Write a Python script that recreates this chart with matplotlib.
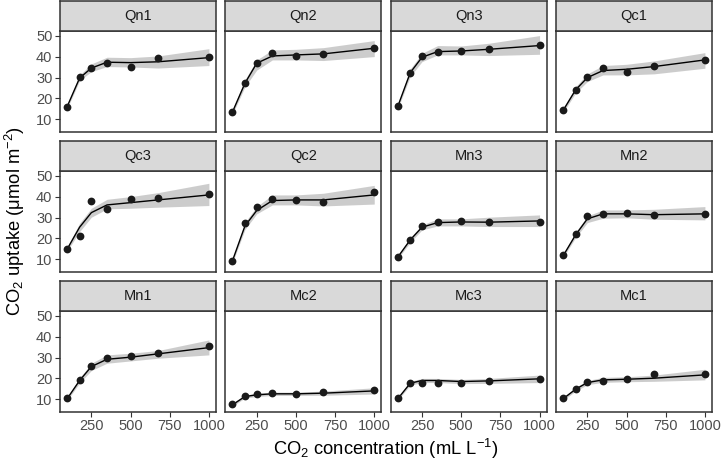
import matplotlib
matplotlib.use("Agg")
import matplotlib.pyplot as plt

plt.rcParams["font.family"] = ["Liberation Sans", "DejaVu Sans"]
plt.rcParams["mathtext.fontset"] = "custom"
plt.rcParams["mathtext.rm"] = "Liberation Sans"
plt.rcParams["mathtext.default"] = "regular"

# plants in facet order (row by row)
plants = ["Qn1", "Qn2", "Qn3", "Qc1",
          "Qc3", "Qc2", "Mn3", "Mn2",
          "Mn1", "Mc2", "Mc3", "Mc1"]

conc = [95, 175, 250, 350, 500, 675, 1000]

uptake = {
    "Qn1": [16.0, 30.4, 34.8, 37.2, 35.3, 39.2, 39.7],
    "Qn2": [13.6, 27.3, 37.1, 41.8, 40.6, 41.4, 44.3],
    "Qn3": [16.2, 32.4, 40.3, 42.1, 42.9, 43.9, 45.5],
    "Qc1": [14.2, 24.1, 30.3, 34.6, 32.5, 35.4, 38.7],
    "Qc3": [15.1, 21.0, 38.1, 34.0, 38.9, 39.6, 41.4],
    "Qc2": [9.3, 27.3, 35.0, 38.8, 38.6, 37.5, 42.4],
    "Mn3": [11.3, 19.4, 25.8, 27.9, 28.5, 28.1, 27.8],
    "Mn2": [12.0, 22.0, 30.6, 31.8, 32.4, 31.1, 31.5],
    "Mn1": [10.6, 19.2, 26.2, 30.0, 30.9, 32.4, 35.5],
    "Mc2": [7.7, 11.4, 12.3, 13.0, 12.5, 13.7, 14.4],
    "Mc3": [10.6, 18.0, 17.9, 17.9, 17.9, 18.9, 19.9],
    "Mc1": [10.5, 14.9, 18.1, 18.9, 19.5, 22.2, 21.9],
}

# fitted curve and its band
fit = {
    "Qn1": [16.0, 29.8, 34.6, 37.4, 37.2, 37.6, 39.6],
    "Qn2": [13.4, 27.3, 36.9, 40.4, 40.9, 41.4, 44.1],
    "Qn3": [16.1, 32.4, 39.8, 42.5, 42.8, 43.6, 45.4],
    "Qc1": [14.2, 24.1, 30.0, 33.4, 34.0, 35.3, 38.5],
    "Qc3": [14.8, 25.4, 32.4, 36.1, 37.2, 38.5, 40.9],
    "Qc2": [9.2, 26.0, 33.4, 38.2, 38.5, 38.5, 40.9],
    "Mn3": [11.0, 19.3, 25.4, 27.6, 27.9, 27.8, 28.4],
    "Mn2": [11.6, 21.7, 29.4, 31.8, 31.8, 31.4, 31.8],
    "Mn1": [10.2, 19.0, 25.7, 29.2, 30.2, 31.8, 34.8],
    "Mc2": [7.3, 11.3, 12.1, 12.6, 12.6, 12.9, 14.0],
    "Mc3": [10.2, 17.7, 19.0, 19.0, 18.5, 18.8, 19.8],
    "Mc1": [10.2, 14.8, 18.0, 19.3, 19.6, 20.1, 21.7],
}
fit_lo = {
    "Qn1": [15.0, 28.6, 32.9, 35.3, 35.1, 34.6, 35.8],
    "Qn2": [12.3, 25.6, 33.6, 38.5, 38.5, 38.2, 40.1],
    "Qn3": [15.0, 30.6, 37.7, 40.9, 40.9, 40.6, 41.2],
    "Qc1": [13.2, 22.6, 28.1, 31.3, 31.3, 31.8, 34.5],
    "Qc3": [13.8, 23.3, 30.2, 34.2, 34.5, 35.0, 35.8],
    "Qc2": [8.2, 24.3, 31.8, 36.1, 36.1, 35.6, 36.5],
    "Mn3": [10.2, 18.1, 24.1, 26.0, 26.0, 25.7, 25.7],
    "Mn2": [10.8, 20.4, 27.6, 29.7, 29.9, 29.2, 28.9],
    "Mn1": [9.4, 17.8, 23.8, 27.3, 28.4, 29.7, 31.3],
    "Mc2": [6.6, 10.6, 11.3, 11.8, 11.8, 11.9, 12.5],
    "Mc3": [9.5, 16.8, 18.0, 18.0, 17.5, 17.6, 18.0],
    "Mc1": [9.5, 13.9, 17.0, 18.1, 18.4, 18.6, 19.3],
}
fit_hi = {
    "Qn1": [17.0, 31.2, 36.6, 39.8, 39.6, 40.4, 43.9],
    "Qn2": [14.5, 29.0, 38.5, 43.3, 43.6, 44.4, 47.8],
    "Qn3": [17.2, 34.2, 41.7, 45.4, 45.2, 46.5, 50.2],
    "Qc1": [15.2, 25.6, 31.8, 35.8, 36.4, 38.0, 42.0],
    "Qc3": [15.8, 27.3, 34.5, 38.8, 40.1, 42.0, 46.5],
    "Qc2": [10.2, 27.7, 35.3, 40.9, 40.9, 41.7, 45.5],
    "Mn3": [11.8, 20.5, 26.5, 29.4, 29.4, 30.2, 31.3],
    "Mn2": [12.4, 23.0, 30.8, 33.7, 33.7, 34.0, 35.3],
    "Mn1": [11.0, 20.2, 27.3, 31.3, 32.1, 33.4, 38.5],
    "Mc2": [8.0, 12.0, 12.9, 13.4, 13.4, 13.9, 15.5],
    "Mc3": [10.9, 18.6, 20.0, 20.0, 19.5, 20.0, 21.6],
    "Mc1": [10.9, 15.7, 19.0, 20.5, 20.8, 21.6, 24.4],
}

W, H = 722, 467
fig = plt.figure(figsize=(W / 100, H / 100), dpi=100)

def frac(x, y, w, h):
    return [x / W, 1 - (y + h) / H, w / W, h / H]

for k, p in enumerate(plants):
    r, c = divmod(k, 4)
    left = 60 + c * 165.33
    top = 31 + r * 140
    ax = fig.add_axes(frac(left, top, 156, 100.7))
    ax.fill_between(conc, fit_lo[p], fit_hi[p], color="#c4c4c4", alpha=0.85, lw=0)
    ax.plot(conc, fit[p], color="black", lw=1.0)
    ax.plot(conc, uptake[p], "o", color="#1a1a1a", ms=5.6, mec="none")
    ax.set_xlim(49.75, 1045.25)
    ax.set_ylim(4.0, 52.4)
    ax.set_xticks([250, 500, 750, 1000])
    ax.set_yticks([10, 20, 30, 40, 50])
    ax.tick_params(length=3.5, width=0.8, color="#333333", labelcolor="#4d4d4d",
                   labelsize=10.5, pad=2)
    if c != 0:
        ax.tick_params(axis="y", left=False, labelleft=False)
    if r != 2:
        ax.tick_params(axis="x", bottom=False, labelbottom=False)
    for s in ax.spines.values():
        s.set_color("#333333")
        s.set_linewidth(1.1)

    sax = fig.add_axes(frac(left, top - 30, 156, 30))
    sax.set_facecolor("#d9d9d9")
    sax.set_xticks([])
    sax.set_yticks([])
    for s in sax.spines.values():
        s.set_color("#333333")
        s.set_linewidth(1.1)
    sax.text(0.5, 0.5, p, ha="center", va="center", fontsize=10.5,
             color="#1a1a1a", transform=sax.transAxes)

fig.text(386 / W, 1 - 449 / H, "CO$_2$ concentration (mL L$^{-1}$)",
         ha="center", va="center", fontsize=13.2, color="black")
fig.text(15 / W, 1 - 221 / H, "CO$_2$ uptake (μmol m$^{-2}$)",
         ha="center", va="center", rotation=90, fontsize=13.2, color="black")

fig.savefig("out.png", dpi=100)
